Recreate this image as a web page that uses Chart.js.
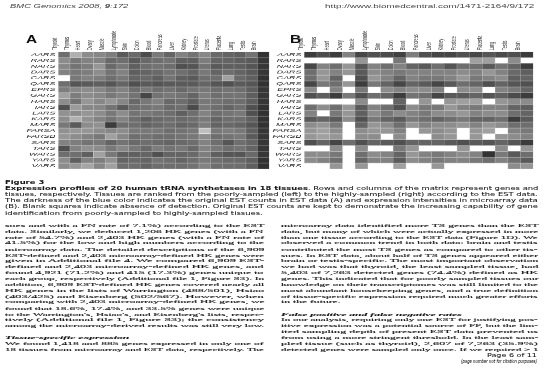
<!DOCTYPE html>
<html><head><meta charset="utf-8">
<script src="https://cdn.jsdelivr.net/npm/chart.js@4.4.0/dist/chart.umd.min.js"></script>
<style>
html,body{margin:0;padding:0;background:#fff;overflow:hidden;}
body{width:545px;height:373px;position:relative;}
#page{position:absolute;left:0;top:0;width:545px;height:772px;transform:scaleY(0.4832);transform-origin:0 0;}
.t{position:absolute;white-space:nowrap;transform-origin:0 50%;color:#151515;}
.body{font-family:'Liberation Serif',serif;font-size:10.4px;line-height:12px;-webkit-text-stroke:0.2px #151515;}
.cap{font-family:'DejaVu Sans',sans-serif;font-size:8.8px;line-height:12px;-webkit-text-stroke:0.1px #151515;}
.hdr{font-family:'Liberation Sans',sans-serif;font-size:9.5px;line-height:12px;color:#444;}
.lab{font-family:'Liberation Sans',sans-serif;font-size:22px;line-height:22px;font-weight:bold;color:#111;}
canvas{position:absolute;}
</style></head><body>
<div id="page">
<canvas id="cA" width="272" height="306" style="left:0;top:50px"></canvas>
<canvas id="cB" width="273" height="306" style="left:272px;top:50px"></canvas>
</div>
<script>
// ---------------- DATA ----------------
const genes = ['AARS','RARS','NARS','DARS','CARS','QARS','EPRS','GARS','HARS','IARS',
               'LARS','KARS','MARS','FARSA','FARSB','SARS','TARS','WARS','YARS','VARS'];
const tissues = ['Thyroid','Thymus','Heart','Ovary','Muscle','Lymphnode','Skin','Colon','Blood',
                 'Pancreas','Liver','Kidney','Prostate','Uterus','Placenta','Lung','Testis','Brain'];
// Panel A: EST data, darkness level per cell (0 = not detected)
const estLevels = [
 [145,80,115,120,130,165,150,180,135,155,125,140,120,150,155,160,140,205], // AARS
 [115,135,125,125,150,145,165,150,145,140,160,160,130,155,155,160,165,200], // RARS
 [120,140,130,105,150,135,160,145,140,145,175,170,140,165,160,160,170,200], // NARS
 [125,135,130,115,140,125,160,155,150,140,145,155,135,155,145,155,165,200], // DARS
 [0,135,125,130,145,135,155,150,160,140,160,165,145,145,95,150,160,205],    // CARS
 [145,170,165,160,170,155,175,165,170,165,165,165,155,170,175,165,170,205], // QARS
 [130,120,115,120,135,125,145,135,145,140,150,140,135,145,140,145,160,200], // EPRS
 [95,130,115,120,135,125,140,185,140,135,140,155,130,145,140,140,160,200],  // GARS
 [115,140,105,120,105,120,150,135,125,150,145,160,135,140,145,145,160,200], // HARS
 [175,100,120,120,140,165,145,140,135,150,145,180,135,145,155,145,175,205], // IARS
 [110,115,105,115,135,115,140,135,140,145,160,145,125,145,140,135,175,205], // LARS
 [115,80,110,125,140,125,145,160,150,145,150,145,135,155,145,145,160,205],  // KARS
 [135,165,115,110,195,145,145,155,150,145,155,150,130,155,150,155,170,205], // MARS
 [110,105,105,115,120,115,135,135,135,145,140,135,65,135,130,135,160,200],  // FARSA
 [105,115,125,135,95,120,145,140,145,145,140,135,115,145,140,135,165,200],  // FARSB
 [125,130,140,135,155,140,150,145,150,155,150,145,125,145,170,145,155,200], // SARS
 [175,125,110,115,135,120,135,150,130,140,135,150,125,135,145,140,155,200], // TARS
 [145,145,160,95,135,160,160,155,175,155,155,150,130,160,170,170,150,200],  // WARS
 [115,160,125,130,110,155,150,155,140,145,155,145,135,145,150,150,160,205], // YARS
 [115,105,90,120,95,145,145,155,145,145,145,140,125,145,145,145,160,205]    // VARS
];
// Panel B: microarray data, darkness level per cell (0 = not detected)
const arrayLevels = [
 [195,180,195,125,185,175,180,190,130,175,185,185,175,185,170,180,175,195], // AARS
 [0,0,0,0,105,0,0,135,0,0,0,0,0,95,95,0,115,0],                              // RARS
 [185,125,145,105,170,125,145,125,155,165,145,170,145,145,165,140,155,195], // NARS
 [145,105,125,105,165,115,125,135,125,125,125,125,115,125,105,125,150,160], // DARS
 [145,105,155,0,175,105,125,155,125,135,135,125,105,135,125,115,160,155],   // CARS
 [185,135,145,105,195,135,155,185,155,165,185,165,145,155,175,155,170,175], // QARS
 [115,0,125,0,135,0,115,125,115,115,125,0,115,115,0,125,135,155],           // EPRS
 [175,160,195,135,175,145,155,195,140,145,185,165,165,155,170,160,180,195], // GARS
 [0,0,0,0,115,0,0,155,0,105,0,105,95,95,0,105,115,115],                      // HARS
 [145,115,145,105,165,125,145,175,115,135,135,105,125,135,125,125,155,160], // IARS
 [125,0,135,105,160,115,135,115,125,135,115,115,105,125,115,115,145,155],   // LARS
 [165,155,165,115,175,135,155,165,135,145,155,145,135,155,155,145,195,165], // KARS
 [115,105,135,0,155,105,115,145,105,125,115,115,105,125,105,115,145,145],   // MARS
 [105,95,115,0,115,105,105,125,0,105,115,105,0,105,95,0,125,135],           // FARSA
 [105,95,105,0,115,115,0,115,0,0,115,105,0,105,0,105,115,125],              // FARSB
 [175,155,185,145,175,155,165,175,155,155,155,165,175,165,170,155,170,195], // SARS
 [0,0,115,0,115,0,0,135,105,0,0,0,105,0,0,115,0,105],                        // TARS
 [115,115,135,0,145,115,125,155,105,125,135,125,115,125,205,135,165,145],   // WARS
 [115,125,145,0,155,125,125,165,115,125,135,125,125,135,145,125,145,165],   // YARS
 [0,0,105,0,105,0,0,95,0,0,105,0,0,0,0,0,115,105]                            // VARS
];

// ---------------- CHARTS ----------------
const shade = (d, lift) => { let g = Math.round(255 - d + (lift||0)); g = Math.min(g, 235); return `rgb(${g},${g},${g})`; };
function makeDatasets(vals){
  return genes.map((g,i)=>({
    label: g,
    data: vals[i].map(v => v > 0 ? [i, i+1] : null),
    backgroundColor: vals[i].map(v => shade(v)),
    borderColor: vals[i].map(v => shade(v, 45)),
    borderWidth: {top:1.2,bottom:1.2,left:0.6,right:0.6},
    borderSkipped: false,
    barPercentage: 1, categoryPercentage: 1
  }));
}
function makeChart(id, vals, yWidth, xHeight, padRight, padBottom){
  return new Chart(document.getElementById(id), {
    type: 'bar',
    data: { labels: tissues, datasets: makeDatasets(vals) },
    options: {
      responsive: false, animation: false, devicePixelRatio: 1,
      layout: { padding: { left: 0, top: 0, right: padRight, bottom: padBottom } },
      plugins: { legend: { display: false }, tooltip: { enabled: false } },
      scales: {
        x: {
          type: 'category', position: 'top', stacked: true, offset: true,
          grid: { display: false, drawTicks: false }, border: { display: false },
          ticks: { autoSkip: false, maxRotation: 90, minRotation: 90, padding: 3,
                   color: '#2a2a2a', font: { family: 'Liberation Sans', size: 7.8 } },
          afterFit: s => { s.height = xHeight; s.paddingLeft = 0; s.paddingRight = 0; }
        },
        y: {
          type: 'linear', min: 0, max: 20, reverse: true, stacked: false,
          grid: { display: false, drawTicks: false }, border: { display: false },
          afterBuildTicks: s => { s.ticks = genes.map((g,i) => ({ value: i + 0.5 })); },
          ticks: { autoSkip: false, padding: 3, color: '#111',
                   font: { family: 'Liberation Sans', size: 8.8, style: 'italic' },
                   callback: v => genes[Math.floor(v)] },
          afterFit: s => { s.width = yWidth; s.paddingTop = 0; s.paddingBottom = 0; }
        }
      }
    }
  });
}
makeChart('cA', estLevels, 58.3, 57, 2.7, 6.2);
makeChart('cB', arrayLevels, 32.3, 57, 11.7, 6.2);

// ---------------- TEXT ----------------
const K = 1/0.4832;
const page = document.getElementById('page');
const items = [];
function addLine(html, cls, x, yc, w, mode, block){
  const d = document.createElement('div');
  d.className = 't ' + cls;
  d.innerHTML = html;
  page.appendChild(d);
  const lh = parseFloat(getComputedStyle(d).lineHeight);
  d.style.top = (yc*K - lh/2) + 'px';
  d.style.left = x + 'px';
  items.push({d, x, w, mode, block});
}
addLine('<i>BMC Genomics</i> <i>2008,</i> <b><i>9</i></b><i>:172</i>', 'hdr', 10, 6.5, 118, 'j', 'h1');
addLine('http://www.biomedcentral.com/1471-2164/9/172', 'hdr', 325, 6.5, 209, 'j', 'h2');

// panel letters
['A','B'].forEach((L, k) => {
  const d = document.createElement('div');
  d.className = 't lab'; d.textContent = L;
  d.style.left = (k ? 290 : 26) + 'px'; d.style.top = '72px';
  d.style.transform = 'scaleX(0.7)'; d.style.transformOrigin = '0 0';
  page.appendChild(d);
});

const capY0 = 188.5, capDY = 6.1;
addLine('<b>Figure 3</b>', 'cap', 5, 182.3, 0, 'l', 'cap');
const capLines = [
 '<b>Expression profiles of 20 human tRNA synthetases in 18 tissues</b>. Rows and columns of the matrix represent genes and',
 'tissues, respectively. Tissues are ranked from the poorly-sampled (left) to the highly-sampled (right) according to the EST data.',
 'The darkness of the blue color indicates the original EST counts in EST data (A) and expression intensities in microarray data',
 '(B). Blank squares indicate absence of detection. Original EST counts are kept to demonstrate the increasing capability of gene',
 'identification from poorly-sampled to highly-sampled tissues.'
];
capLines.forEach((t,i) => addLine(t, 'cap', 5, capY0 + i*capDY, 533, i < 4 ? 'j' : 'l', 'cap'));

const bodyY0 = 225.5, bodyDY = 5.9;
const leftCol = [
 ['sues and with a FN rate of 7.1%) according to the EST','j'],
 ['data. Similarly, we deduced 1,206 HK genes (with a FN','j'],
 ['rate of 54.7%) and 2,403 HK genes (with a FN rate of','j'],
 ['41.5%) for the low and high numbers according to the','j'],
 ['microarray data. The detailed descriptions of the 6,909','j'],
 ['EST-defined and 2,403 microarray-defined HK genes were','j'],
 ['given in Additional file 4. We compared 6,909 EST-','j'],
 ['defined and 2,403 microarray-defined HK genes, and','j'],
 ['found 4,921 (71.2%) and 415 (17.3%) genes unique to','j'],
 ['each group, respectively (Additional file 1, Figure S3). In','j'],
 ['addition, 6,909 EST-defined HK genes covered nearly all','j'],
 ['HK genes in the lists of Warrington (488/501), Hsiao','j'],
 ['(403/425) and Eisenberg (502/567). However, when','j'],
 ['comparing with 2,403 microarray-defined HK genes, we','j'],
 ['found that 18.6%, 17.4%, and 33.5% genes were unique','j'],
 ['to the Warrington\'s, Hsiao\'s, and Eisenberg\'s lists, respec-','j'],
 ['tively (Additional file 1, Figure S3); the consistency','j'],
 ['among the microarray-derived results was still very low.','j'],
 null,
 ['<b><i>Tissue-specific expression</i></b>','l'],
 ['We found 1,418 and 885 genes expressed in only one of','j'],
 ['18 tissues from microarray and EST data, respectively. The','j']
];
const rightCol = [
 ['microarray data identified more TS genes than the EST','j'],
 ['data, but many of which were actually expressed in more','j'],
 ['than one tissue according to the EST data (Figure 1D). We','j'],
 ['observed a common trend in both data: brain and testis','j'],
 ['contributed the most TS genes as compared to other tis-','j'],
 ['sues. In EST data, about half of TS genes appeared either','j'],
 ['brain or testis-specific. The most important observation','j'],
 ['we had was that thyroid, the least sampled tissue, had','j'],
 ['5,403 of 7,263 detected genes (74.4%) defined as HK','j'],
 ['genes. This indicated that for poorly sampled tissues our','j'],
 ['knowledge on their transcriptomes was still limited to the','j'],
 ['most abundant housekeeping genes, and a true definition','j'],
 ['of tissue-specific expression required much greater efforts','j'],
 ['in the future.','l'],
 null,
 ['<b><i>False positive and false negative rates</i></b>','l'],
 ['In our analysis, requiring only one EST for justifying pos-','j'],
 ['itive expression was a potential source of FP, but the lim-','j'],
 ['ited sampling depth of present EST data prevented us','j'],
 ['from using a more stringent threshold. In the least sam-','j'],
 ['pled tissue (such as thyroid), 2,607 of 7,263 (35.9%)','j'],
 ['detected genes were sampled only once. If we required &gt; 1','j']
];
leftCol.forEach((l,i) => { if (l) addLine(l[0], 'body', 5, bodyY0 + i*bodyDY, 259, l[1], 'body'); });
rightCol.forEach((l,i) => { if (l) addLine(l[0], 'body', 281, bodyY0 + i*bodyDY, 257, l[1], 'body'); });

addLine('Page 6 of 11', 'cap', 487, 355.5, 50, 'j', 'p1');
addLine('<i>(page number not for citation purposes)</i>', 'cap', 461, 361.5, 76, 'j', 'p2');

// fit widths
const blockScale = {};
items.forEach(it => {
  if (it.mode === 'j') { it.s = it.w / it.d.offsetWidth; (blockScale[it.block] = blockScale[it.block] || []).push(it.s); }
});
const avg = b => { const a = blockScale[b]; return a ? a.reduce((p,c)=>p+c,0)/a.length : 1; };
items.forEach(it => {
  const s = it.mode === 'j' ? it.s : avg(it.block);
  it.d.style.transform = `scaleX(${s})`;
});
</script>
</body></html>
